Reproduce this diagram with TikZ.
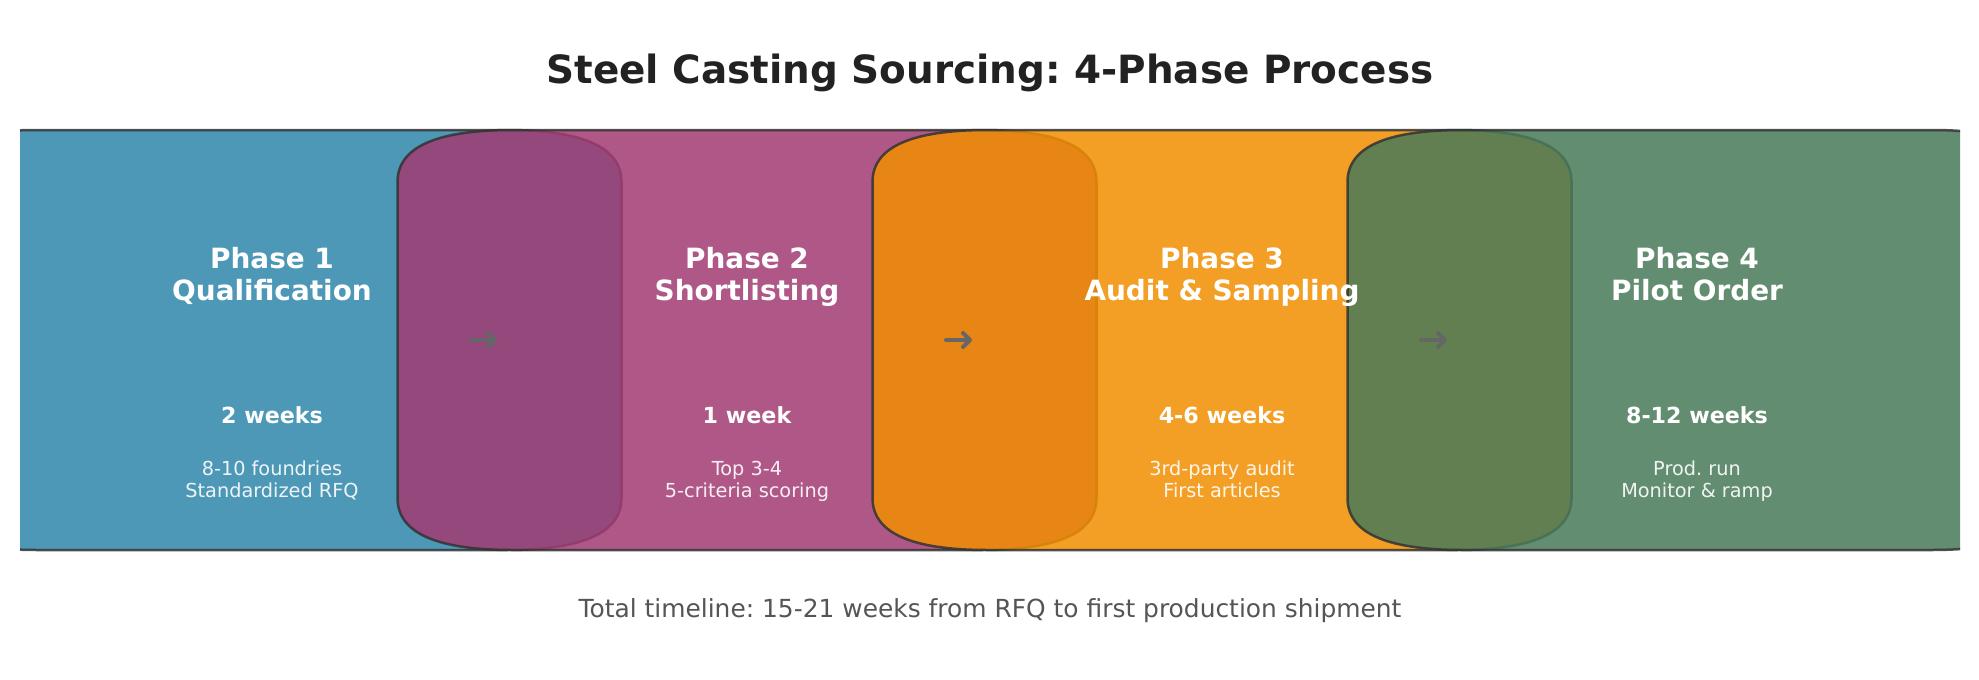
\documentclass[tikz,border=0pt]{standalone}
\usepackage{fontspec}
\setmainfont{DejaVu Sans}
\usetikzlibrary{arrows.meta}
\frenchspacing
\definecolor{cA}{HTML}{2E86AB}
\definecolor{cB}{HTML}{A23B72}
\definecolor{cC}{HTML}{F18F01}
\definecolor{cD}{HTML}{487A59}
\definecolor{edgegray}{HTML}{333333}
\definecolor{titlegray}{HTML}{222222}
\definecolor{footgray}{HTML}{555555}
\definecolor{arrowgray}{HTML}{666666}
\tikzset{
  phasebox/.style={draw=edgegray, line width=2.5pt, fill opacity=0.85, draw opacity=0.85, line join=round},
  phasetitle/.style={anchor=base, text=white, font=\fontsize{27.9}{33}\selectfont\bfseries, inner sep=0pt},
  phasedur/.style={anchor=base, text=white, font=\fontsize{22.2}{26}\selectfont\bfseries, inner sep=0pt},
  phasenote/.style={anchor=base, text=white, text opacity=0.9, font=\fontsize{19.3}{23}\selectfont, inner sep=0pt},
  flowarrow/.style={draw=arrowgray, line width=4pt, line cap=round, -{Straight Barb[length=7pt,width=14pt,round]}},
}
\begin{document}
\begin{tikzpicture}[x=1pt,y=-1pt]
\useasboundingbox (0,0) rectangle (1979,680);
\fill[white] (0,0) rectangle (1979,680);
\node[anchor=base, text=titlegray, font=\fontsize{38.9}{46}\selectfont\bfseries, inner sep=0pt] (title) at (990,83) {Steel Casting Sourcing: 4-Phase Process};
\begin{scope}
\clip (20,0) rectangle (1960,680);
\foreach \i/\col in {0/cA,1/cB,2/cC,3/cD}{
  \pgfmathsetmacro{\cx}{272+475*\i}
  \pgfmathsetmacro{\L}{\cx-349.5}
  \pgfmathsetmacro{\R}{\cx+349.5}
  \pgfmathsetmacro{\rx}{115}
  \pgfmathsetmacro{\ry}{52}
  \pgfmathsetmacro{\T}{130}
  \pgfmathsetmacro{\B}{550}
  \path[phasebox, fill=\col]
    ({\L+\rx},\T) -- ({\R-\rx},\T)
    .. controls ({\R-\rx/3},\T) and (\R,{\T+\ry/3}) .. (\R,{\T+\ry})
    -- (\R,{\B-\ry})
    .. controls (\R,{\B-\ry/3}) and ({\R-\rx/3},\B) .. ({\R-\rx},\B)
    -- ({\L+\rx},\B)
    .. controls ({\L+\rx/3},\B) and (\L,{\B-\ry/3}) .. (\L,{\B-\ry})
    -- (\L,{\T+\ry})
    .. controls (\L,{\T+\ry/3}) and ({\L+\rx/3},\T) .. ({\L+\rx},\T) -- cycle;
}
\end{scope}
% phase texts
\foreach \i/\ta/\tb/\du/\na/\nb in {
  1/Phase 1/Qualification/2 weeks/8-10 foundries/Standardized RFQ,
  2/Phase 2/Shortlisting/1 week/Top 3-4/5-criteria scoring,
  3/Phase 3/Audit \& Sampling/4-6 weeks/3rd-party audit/First articles,
  4/Phase 4/Pilot Order/8-12 weeks/Prod. run/Monitor \& ramp}{
  \pgfmathsetmacro{\cx}{272+475*(\i-1)}
  \node[phasetitle] (t\i a) at (\cx,268) {\ta};
  \node[phasetitle] (t\i b) at (\cx,300) {\tb};
  \node[phasedur] (d\i) at (\cx,423) {\du};
  \node[phasenote] (n\i a) at (\cx,475) {\na};
  \node[phasenote] (n\i b) at (\cx,497.5) {\nb};
}
% arrows
\foreach \i in {1,2,3}{
  \pgfmathsetmacro{\cx}{272+475*(\i-1)}
  \coordinate (a\i s) at ({\cx+199},340);
  \coordinate (a\i e) at ({\cx+225},340);
  \draw[flowarrow] (a\i s) -- (a\i e);
}
\node[anchor=base, text=footgray, font=\fontsize{24.9}{29}\selectfont, inner sep=0pt] (footer) at (990,617) {Total timeline: 15-21 weeks from RFQ to first production shipment};
\end{tikzpicture}
\end{document}
